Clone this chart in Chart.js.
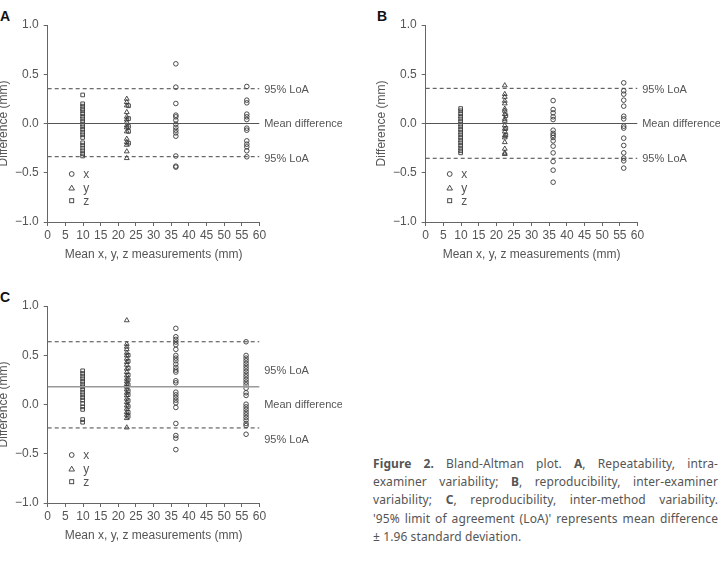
<!DOCTYPE html>
<html>
<head>
<meta charset="utf-8">
<script src="https://cdn.jsdelivr.net/npm/chart.js@4.4.1/dist/chart.umd.min.js"></script>
<style>
  html, body { margin: 0; padding: 0; background: #fff; }
  body { width: 721px; height: 571px; position: relative; overflow: hidden; font-family: "Liberation Sans", Arial, sans-serif; }
  canvas { position: absolute; }
  .letter { position: absolute; font: bold 14px "Liberation Sans", Arial, sans-serif; color: #111; }
  #caption { position: absolute; left: 373px; top: 455px; width: 345px; font: 12px "Noto Sans", "Open Sans", sans-serif; color: #555; line-height: 18.2px; letter-spacing: 0.1px; }
  #caption .ln { text-align: justify; text-align-last: justify; white-space: nowrap; }
  #caption .ln.last { text-align-last: left; }
  #caption b { color: #555; }
</style>
</head>
<body>
<div class="letter" style="left:0px; top:8px;">A</div>
<div class="letter" style="left:377px; top:8px;">B</div>
<div class="letter" style="left:0px; top:289px;">C</div>
<canvas id="cA" width="342" height="280" style="left:0px; top:0px;"></canvas>
<canvas id="cB" width="352" height="280" style="left:368px; top:0px;"></canvas>
<canvas id="cC" width="342" height="280" style="left:0px; top:281px;"></canvas>
<div id="caption">
  <div class="ln"><b>Figure 2.</b> Bland-Altman plot. <b>A</b>, Repeatability, intra-</div>
  <div class="ln">examiner variability; <b>B</b>, reproducibility, inter-examiner</div>
  <div class="ln">variability; <b>C</b>, reproducibility, inter-method variability.</div>
  <div class="ln">'95% limit of agreement (LoA)' represents mean difference</div>
  <div class="ln last">± 1.96 standard deviation.</div>
</div>
<script>
// ---------- DATA ----------
const xTicks = [0, 5, 10, 15, 20, 25, 30, 35, 40, 45, 50, 55, 60];
const yTicks = [-1.0, -0.5, 0.0, 0.5, 1.0];
const legendNames = ["x", "y", "z"];
const refLabels = ["95% LoA", "Mean difference", "95% LoA"];
const refLabelValues = [0.35, 0.0, -0.35];

// mean differences and limits of agreement for panels A, B, C
const meanDiff = [0.0, 0.0, 0.18];
const loaUpper = [0.353, 0.357, 0.637];
const loaLower = [-0.337, -0.353, -0.238];

// group positions on the mean axis (mm)
const A_groupMeans = [9.9, 22.4, 22.9, 36.3, 56.4];
const B_groupMeans = [9.9, 22.4, 22.7, 36.1, 56.1];
const C_groupMeans = [9.9, 22.4, 22.8, 36.3, 56.2];

// Panel A differences (mm)
const A_z = [0.29, 0.20, 0.176, 0.149, 0.129, 0.10, 0.074, 0.047, 0.02, -0.007, -0.034, -0.06, -0.088, -0.115, -0.142, -0.196, -0.22, -0.25, -0.277, -0.305, -0.33];
const A_y = [0.25, 0.217, 0.183, 0.115, 0.068, 0.04, 0.014, -0.02, -0.04, -0.081, -0.156, -0.19, -0.217, -0.284, -0.352];
const A_z2 = [0.18, 0.05, -0.03, -0.08, -0.2];
const A_x1 = [0.606, 0.369, 0.203, 0.085, 0.068, 0.034, -0.007, -0.04, -0.068, -0.095, -0.129, -0.33, -0.433, -0.443];
const A_x2 = [0.376, 0.237, 0.21, 0.095, 0.068, 0.04, -0.047, -0.068, -0.176, -0.21, -0.237, -0.277, -0.338];

// Panel B differences (mm)
const B_z = [0.152, 0.129, 0.10, 0.074, 0.047, 0.02, -0.007, -0.034, -0.061, -0.088, -0.115, -0.142, -0.169, -0.196, -0.223, -0.25, -0.277, -0.298];
const B_y = [0.386, 0.298, 0.27, 0.23, 0.203, 0.149, 0.129, 0.095, 0.047, 0.027, -0.02, -0.054, -0.081, -0.122, -0.142, -0.19, -0.257, -0.298, -0.311];
const B_z2 = [0.08, -0.05, -0.12];
const B_x1 = [0.233, 0.142, 0.108, 0.068, 0.04, -0.068, -0.1, -0.12, -0.142, -0.176, -0.23, -0.298, -0.386, -0.474, -0.596];
const B_x2 = [0.413, 0.332, 0.298, 0.237, 0.176, 0.074, 0.047, -0.027, -0.047, -0.149, -0.223, -0.298, -0.352, -0.379, -0.453];

// Panel C differences (mm)
const C_z = [0.342, 0.315, 0.288, 0.261, 0.234, 0.207, 0.18, 0.153, 0.125, 0.098, 0.071, 0.044, 0.01, -0.024, -0.05, -0.153, -0.18];
const C_y = [0.854, 0.614, 0.586, 0.56, 0.525, 0.498, 0.464, 0.43, 0.403, 0.363, 0.329, 0.295, 0.261, 0.234, 0.207, 0.18, 0.153, 0.119, 0.092, 0.058, 0.024, -0.01, -0.044, -0.078, -0.105, -0.139, -0.234];
const C_z2 = [0.5, 0.44, 0.37, 0.3, 0.25, 0.2, 0.14, 0.1, 0.04, -0.02, -0.08, -0.12];
const C_x1 = [0.773, 0.688, 0.661, 0.634, 0.607, 0.56, 0.498, 0.471, 0.444, 0.41, 0.376, 0.349, 0.329, 0.241, 0.22, 0.125, 0.098, 0.071, 0.044, 0.017, -0.03, -0.193, -0.315, -0.342, -0.458];
const C_x2 = [0.637, 0.498, 0.471, 0.444, 0.417, 0.39, 0.363, 0.336, 0.308, 0.281, 0.254, 0.227, 0.2, 0.166, 0.119, 0.092, 0.003, -0.024, -0.05, -0.078, -0.105, -0.132, -0.159, -0.193, -0.214, -0.302];

// ---------- STYLE ----------
const FONT = '"Liberation Sans", Arial, sans-serif';
const TXT = '#555';
const AXIS = '#666';
const MARK = '#3a3a3a';

function pts(xv, arr) { return arr.map(v => ({ x: xv, y: v })); }
function markDs(data, style, r) {
  return { type: 'scatter', data, pointStyle: style, pointRadius: r, pointHoverRadius: r,
    pointBorderColor: MARK, pointBackgroundColor: 'rgba(0,0,0,0)', pointBorderWidth: 0.9, showLine: false };
}
function lineDs(y, dashed, color, width) {
  return { type: 'scatter', data: [{ x: xTicks[0], y }, { x: xTicks[xTicks.length - 1], y }], showLine: true,
    borderColor: color, borderWidth: width, borderDash: dashed ? [4, 3] : [], pointRadius: 0, pointHoverRadius: 0, fill: false };
}

const extrasPlugin = {
  id: 'extras',
  afterDraw(chart) {
    const { ctx, chartArea, scales } = chart;
    ctx.save();
    ctx.font = '11px ' + FONT;
    ctx.fillStyle = TXT;
    ctx.textAlign = 'left';
    ctx.textBaseline = 'middle';
    refLabels.forEach((t, i) => {
      ctx.fillText(t, chartArea.right + 4.7, scales.y.getPixelForValue(refLabelValues[i]) + 0.5);
    });
    const sx = chartArea.left + 24, tx = chartArea.left + 35.5;
    const rows = [chartArea.top + 149, chartArea.top + 163, chartArea.top + 175.7];
    ctx.strokeStyle = MARK; ctx.lineWidth = 0.9;
    ctx.beginPath(); ctx.arc(sx, rows[0], 2.4, 0, Math.PI * 2); ctx.stroke();
    ctx.beginPath(); ctx.moveTo(sx, rows[1] - 2.8); ctx.lineTo(sx + 2.8, rows[1] + 2); ctx.lineTo(sx - 2.8, rows[1] + 2); ctx.closePath(); ctx.stroke();
    ctx.strokeRect(sx - 2, rows[2] - 2, 4, 4);
    ctx.font = '12px ' + FONT;
    legendNames.forEach((n, i) => ctx.fillText(n, tx, rows[i] + 1));
    ctx.restore();
  }
};

function makeChart(id, idx, groupMeans, z, y, z2, x1, x2, yAxisW, yTitlePad) {
  const datasets = [
    lineDs(loaUpper[idx], true, '#444', 1),
    lineDs(loaLower[idx], true, '#444', 1),
    lineDs(meanDiff[idx], false, idx === 2 ? '#999' : '#555', idx === 2 ? 1.6 : 1),
    markDs(pts(groupMeans[0], z), 'rect', 2.6),
    markDs(pts(groupMeans[1], y), 'triangle', 2.8),
    markDs(pts(groupMeans[2], z2), 'rect', 2.6),
    markDs(pts(groupMeans[3], x1), 'circle', 2.3),
    markDs(pts(groupMeans[4], x2), 'circle', 2.3)
  ];
  return new Chart(document.getElementById(id), {
    type: 'scatter',
    data: { datasets },
    plugins: [extrasPlugin],
    options: {
      responsive: false,
      animation: false,
      events: [],
      layout: { padding: { top: 25, right: 82.5, bottom: 0, left: 0 } },
      plugins: { legend: { display: false }, tooltip: { enabled: false } },
      scales: {
        x: {
          type: 'linear', min: xTicks[0], max: xTicks[xTicks.length - 1],
          afterBuildTicks: s => { s.ticks = xTicks.map(v => ({ value: v })); },
          afterFit: s => { s.height = 58; },
          ticks: { color: TXT, font: { family: FONT, size: 12 }, padding: 2, maxRotation: 0, autoSkip: false, callback: v => String(v) },
          grid: { display: true, drawOnChartArea: false, drawTicks: true, tickLength: 4, color: AXIS },
          border: { display: true, color: AXIS, width: 1 },
          title: { display: true, text: 'Mean x, y, z measurements (mm)', color: TXT, font: { family: FONT, size: 12 }, padding: { top: 0, bottom: 18 } }
        },
        y: {
          type: 'linear', min: yTicks[0], max: yTicks[yTicks.length - 1],
          afterBuildTicks: s => { s.ticks = yTicks.map(v => ({ value: v })); },
          afterFit: s => { s.width = yAxisW; },
          ticks: { color: TXT, font: { family: FONT, size: 12 }, padding: 5, callback: v => (v < 0 ? '\u2212' : '') + Math.abs(v).toFixed(1) },
          grid: { display: true, drawOnChartArea: false, drawTicks: true, tickLength: 4, color: AXIS },
          border: { display: true, color: AXIS, width: 1 },
          title: { display: true, text: 'Difference (mm)', color: TXT, font: { family: FONT, size: 12 }, padding: { top: yTitlePad, bottom: 0 } }
        }
      }
    }
  });
}

makeChart('cA', 0, A_groupMeans, A_z, A_y, A_z2, A_x1, A_x2, 47.7, -4);
makeChart('cB', 1, B_groupMeans, B_z, B_y, B_z2, B_x1, B_x2, 57.7, 6.8);
makeChart('cC', 2, C_groupMeans, C_z, C_y, C_z2, C_x1, C_x2, 47.7, -4);
</script>
</body>
</html>
